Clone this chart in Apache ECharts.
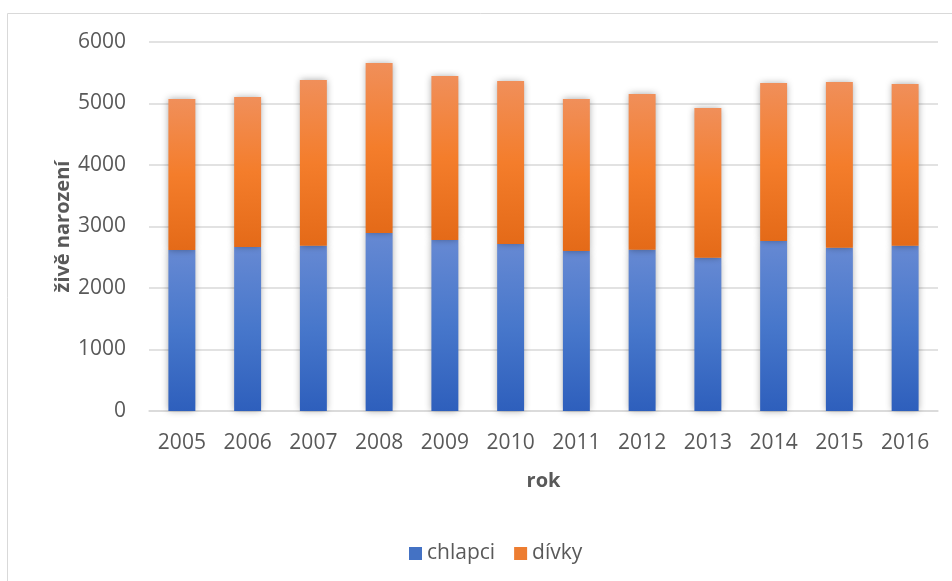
<!DOCTYPE html>
<html>
<head>
<meta charset="utf-8">
<script src="https://cdn.jsdelivr.net/npm/echarts@6/dist/echarts.min.js"></script>
<style>
html,body{margin:0;padding:0;background:#fff;}
#chart{width:952px;height:581px;}
</style>
</head>
<body>
<div id="chart"></div>
<script>
const years = ['2005','2006','2007','2008','2009','2010','2011','2012','2013','2014','2015','2016'];
const chlapci = [2618,2667,2688,2894,2780,2715,2602,2623,2493,2764,2655,2688];
const divky = [2455,2439,2694,2765,2667,2651,2471,2531,2434,2569,2695,2629];
const seriesNames = ['chlapci','dívky'];
const yAxisTitle = 'živě narození';
const xAxisTitle = 'rok';

const font = '"Open Sans", "Liberation Sans", sans-serif';
const textColor = '#595959';

const blueGrad = new echarts.graphic.LinearGradient(0,0,0,1,[
  {offset:0,color:'#6689d3'},{offset:0.5,color:'#4777cb'},{offset:1,color:'#2e5fbc'}]);
const orangeGrad = new echarts.graphic.LinearGradient(0,0,0,1,[
  {offset:0,color:'#f08f5a'},{offset:0.5,color:'#f47d2b'},{offset:1,color:'#e46a18'}]);

const chart = echarts.init(document.getElementById('chart'));
chart.setOption({
  animation:false,
  textStyle:{fontFamily:font},
  graphic:[{type:'rect',shape:{x:7.5,y:13.5,width:1000,height:1000},
    style:{fill:'none',stroke:'#d9d9d9',lineWidth:1},z:-1}],
  grid:{left:149,right:14,top:42,bottom:170,containLabel:false},
  legend:{
    data:[{name:seriesNames[0],itemStyle:{color:'#4472c4'}},{name:seriesNames[1],itemStyle:{color:'#ed7d31'}}],
    left:404, top:538, icon:'rect', itemWidth:13, itemHeight:13, itemGap:19,
    textStyle:{fontSize:21,color:textColor,fontFamily:font}
  },
  xAxis:{
    type:'category', data:years,
    name:xAxisTitle, nameLocation:'middle', nameGap:60,
    nameTextStyle:{fontSize:20,fontWeight:'bold',color:textColor,fontFamily:font},
    axisLine:{lineStyle:{color:'#d9d9d9',width:1.5}},
    axisTick:{show:false},
    axisLabel:{fontSize:21,color:textColor,margin:22,fontFamily:font}
  },
  yAxis:{
    type:'value', min:0, max:6000, interval:1000,
    name:yAxisTitle, nameLocation:'middle', nameGap:76, nameRotate:90, nameMoveOverlap:false,
    nameTextStyle:{fontSize:20,fontWeight:'bold',color:textColor,fontFamily:font},
    axisLine:{show:false}, axisTick:{show:false},
    axisLabel:{fontSize:21,color:textColor,margin:23,fontFamily:font,formatter:v=>String(v)},
    splitLine:{lineStyle:{color:'#d9d9d9',width:1.5}}
  },
  series:[
    {name:seriesNames[0],type:'bar',stack:'a',data:chlapci,barWidth:'41%',
     itemStyle:{color:blueGrad,shadowBlur:7,shadowColor:'rgba(0,0,0,0.35)',shadowOffsetX:0,shadowOffsetY:0}},
    {name:seriesNames[1],type:'bar',stack:'a',data:divky,barWidth:'41%',
     itemStyle:{color:orangeGrad,shadowBlur:7,shadowColor:'rgba(0,0,0,0.35)',shadowOffsetX:0,shadowOffsetY:0}}
  ]
});
</script>
</body>
</html>
